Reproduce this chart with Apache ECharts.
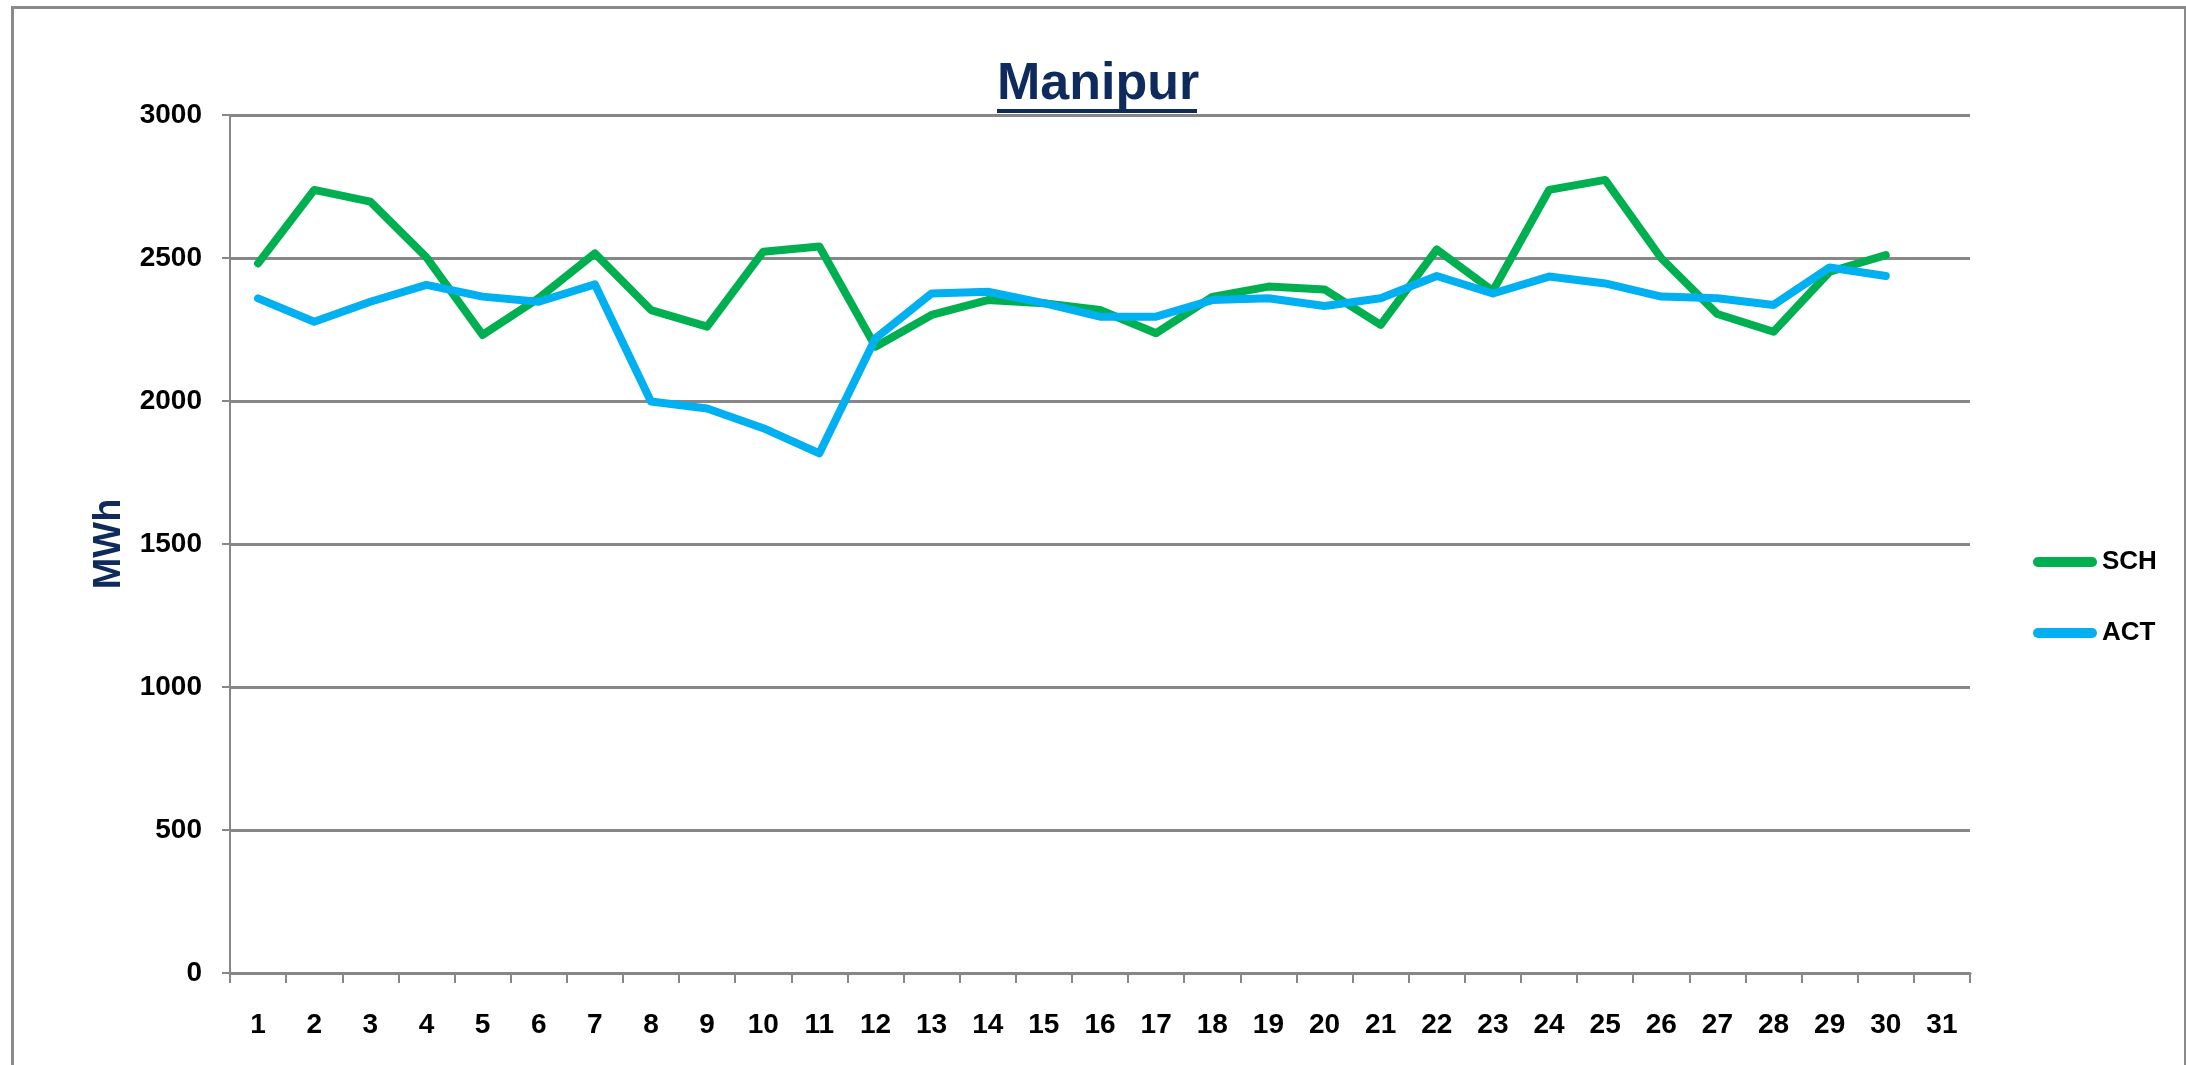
<!DOCTYPE html>
<html>
<head>
<meta charset="utf-8">
<script src="https://cdn.jsdelivr.net/npm/echarts@6/dist/echarts.min.js"></script>
<style>
html,body{margin:0;padding:0;background:#fff;}
#chart{width:2186px;height:1065px;}
</style>
</head>
<body>
<div id="chart"></div>
<script>
const days = ['1','2','3','4','5','6','7','8','9','10','11','12','13','14','15','16','17','18','19','20','21','22','23','24','25','26','27','28','29','30','31'];
const sch = [2481, 2738, 2697, 2502, 2231, 2360, 2516, 2318, 2260, 2522, 2540, 2190, 2301, 2353, 2342, 2318, 2237, 2364, 2400, 2390, 2266, 2530, 2385, 2738, 2773, 2499, 2304, 2242, 2452, 2510, null];
const act = [2359, 2277, 2347, 2406, 2365, 2347, 2408, 1998, 1974, 1905, 1817, 2219, 2376, 2382, 2342, 2295, 2295, 2353, 2359, 2332, 2359, 2437, 2376, 2435, 2411, 2365, 2359, 2336, 2467, 2437, null];
const yTicks = [0, 500, 1000, 1500, 2000, 2500, 3000];

const chart = echarts.init(document.getElementById('chart'), null, {renderer: 'canvas'});
const labelFont = {fontFamily: 'Liberation Sans', fontWeight: 'bold', fontSize: 28, color: '#000'};
const pill = 'path://M5,0 H59 A5,5 0 0 1 59,10 H5 A5,5 0 0 1 5,0 Z';

chart.setOption({
  backgroundColor: '#fff',
  animation: false,
  title: {
    text: 'Manipur',
    left: 997,
    top: 59,
    padding: 0,
    textStyle: {fontFamily: 'Liberation Sans', fontWeight: 'bold', fontSize: 52, color: '#0f2b5b'}
  },
  graphic: [
    {type: 'rect', left: 10, top: 5, shape: {width: 2173, height: 1100}, style: {fill: 'none', stroke: '#8a8a8a', lineWidth: 3}, silent: true},
    {type: 'rect', left: 997, top: 109, shape: {width: 200, height: 4}, style: {fill: '#0f2b5b'}, silent: true}
  ],
  legend: {
    orient: 'vertical',
    left: 2033,
    top: 549,
    itemWidth: 64,
    itemHeight: 10,
    itemGap: 45,
    padding: 0,
    data: [{name: 'SCH', icon: pill}, {name: 'ACT', icon: pill}],
    textStyle: {fontFamily: 'Liberation Sans', fontWeight: 'bold', fontSize: 26, color: '#000'}
  },
  grid: {left: 230, right: 216, top: 115, bottom: 92, containLabel: false},
  xAxis: {
    type: 'category',
    data: days,
    boundaryGap: true,
    axisLine: {show: true, lineStyle: {color: '#878787', width: 3}},
    axisTick: {show: true, alignWithLabel: false, length: 10, lineStyle: {color: '#878787', width: 2}},
    axisLabel: Object.assign({margin: 38, interval: 0}, labelFont),
    splitLine: {show: false}
  },
  yAxis: {
    type: 'value',
    min: yTicks[0],
    max: yTicks[yTicks.length - 1],
    interval: 500,
    name: 'MWh',
    nameLocation: 'middle',
    nameRotate: 90,
    nameGap: 101,
    nameTextStyle: {fontFamily: 'Liberation Sans', fontWeight: 'bold', fontSize: 38, color: '#0f2b5b'},
    axisLine: {show: true, lineStyle: {color: '#878787', width: 2}},
    axisTick: {show: true, length: 8, lineStyle: {color: '#878787', width: 2}},
    axisLabel: Object.assign({margin: 28, formatter: function (v) { return String(v); }}, labelFont),
    splitLine: {show: true, lineStyle: {color: '#878787', width: 3}}
  },
  series: [
    {name: 'SCH', type: 'line', data: sch, symbol: 'none', color: '#00B050',
     lineStyle: {width: 8, color: '#00B050', join: 'round', cap: 'round'}, z: 2},
    {name: 'ACT', type: 'line', data: act, symbol: 'none', color: '#00B0F0',
     lineStyle: {width: 8, color: '#00B0F0', join: 'round', cap: 'round'}, z: 3}
  ]
});
</script>
</body>
</html>
